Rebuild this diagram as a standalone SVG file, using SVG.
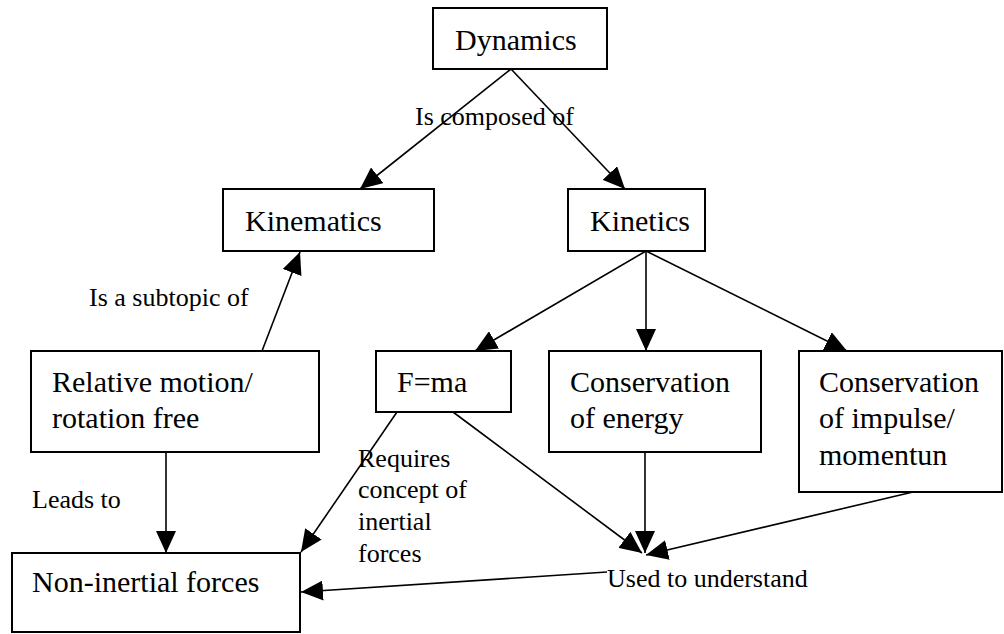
<svg xmlns="http://www.w3.org/2000/svg" width="1004" height="634" viewBox="0 0 1004 634">
<style>
.box{fill:#fff;stroke:#000;stroke-width:2}
.ln{stroke:#000;stroke-width:1.6;fill:none}
.arr{marker-end:url(#ah)}
</style>
<defs>
<marker id="ah" viewBox="0 0 22 20" refX="22" refY="10" markerWidth="22" markerHeight="20" markerUnits="userSpaceOnUse" orient="auto">
<path d="M0,0 L22,10 L0,20 z" fill="#000"/>
</marker>
</defs>
<rect width="1004" height="634" fill="#fff"/>
<g id="connectors">
<line class="ln arr" x1="511" y1="69" x2="360" y2="189"/>
<line class="ln arr" x1="511" y1="69" x2="625" y2="189"/>
<line class="ln arr" x1="262" y1="351" x2="300" y2="252"/>
<line class="ln arr" x1="646" y1="251" x2="475" y2="351"/>
<line class="ln arr" x1="646" y1="251" x2="646" y2="351"/>
<line class="ln arr" x1="646" y1="251" x2="847" y2="351"/>
<line class="ln arr" x1="166" y1="452" x2="166" y2="553"/>
<line class="ln arr" x1="397" y1="412" x2="301" y2="552"/>
<line class="ln arr" x1="453" y1="412" x2="642" y2="553"/>
<line class="ln arr" x1="645" y1="452" x2="645" y2="553"/>
<line class="ln arr" x1="913" y1="492" x2="646" y2="555"/>
<line class="ln arr" x1="607" y1="572" x2="301" y2="592"/>
</g>
<g id="labels" font-family="Liberation Serif, Times New Roman, serif" font-size="26" fill="#000">
<text x="415" y="125">Is composed of</text>
<text x="89" y="306">Is a subtopic of</text>
<text x="32" y="508">Leads to</text>
<text x="358" y="467">Requires</text>
<text x="358" y="498">concept of</text>
<text x="358" y="530">inertial</text>
<text x="358" y="562">forces</text>
<text x="607" y="587">Used to understand</text>
</g>
<g font-family="Liberation Serif, Times New Roman, serif" font-size="30" fill="#000">
<g id="dynamics">
<rect class="box" x="433" y="8" width="174" height="61"/>
<text x="455" y="50">Dynamics</text>
</g>
<g id="kinematics">
<rect class="box" x="223" y="189" width="211" height="62"/>
<text x="245" y="231">Kinematics</text>
</g>
<g id="kinetics">
<rect class="box" x="568" y="189" width="137" height="62"/>
<text x="590" y="231">Kinetics</text>
</g>
<g id="relative-motion">
<rect class="box" x="31" y="351" width="288" height="101"/>
<text x="52" y="392">Relative motion/</text>
<text x="52" y="428">rotation free</text>
</g>
<g id="fma">
<rect class="box" x="376" y="351" width="135" height="61"/>
<text x="397" y="392">F=ma</text>
</g>
<g id="cons-energy">
<rect class="box" x="549" y="351" width="212" height="101"/>
<text x="570" y="392">Conservation</text>
<text x="570" y="428">of energy</text>
</g>
<g id="cons-impulse">
<rect class="box" x="799" y="351" width="203" height="141"/>
<text x="819" y="392">Conservation</text>
<text x="819" y="428">of impulse/</text>
<text x="819" y="465">momentun</text>
</g>
<g id="non-inertial">
<rect class="box" x="12" y="553" width="288" height="79"/>
<text x="32" y="592">Non-inertial forces</text>
</g>
</g>
</svg>
